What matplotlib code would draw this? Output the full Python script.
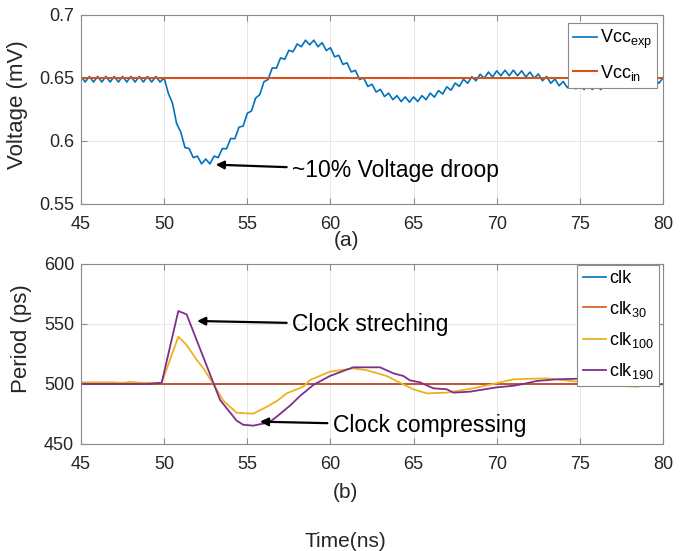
import numpy as np
import matplotlib
matplotlib.use("Agg")
import matplotlib.pyplot as plt

plt.rcParams['font.family'] = ['Liberation Sans', 'DejaVu Sans']
plt.rcParams['mathtext.fontset'] = 'custom'
plt.rcParams['mathtext.rm'] = 'Liberation Sans'
plt.rcParams['mathtext.it'] = 'Liberation Sans:italic'

# ---- (a) supply voltage, ripple tops (t = 45, 45.5, ... 80) and bottoms (t = 45.25, ... 79.75)
vcc_top = [0.6512] * 10 + [
    0.6500, 0.6300, 0.6070, 0.5940, 0.5880, 0.5857, 0.5880, 0.5940, 0.6020, 0.6110,
    0.6220, 0.6340, 0.6470, 0.6580, 0.6660, 0.6720, 0.6770, 0.6800, 0.6800, 0.6780,
    0.6740, 0.6680, 0.6620, 0.6560, 0.6500, 0.6450, 0.6410, 0.6380, 0.6360, 0.6350,
    0.6350, 0.6360, 0.6380, 0.6400, 0.6430, 0.6460, 0.6490, 0.6510, 0.6530, 0.6547,
    0.6557, 0.6562, 0.6562, 0.6557, 0.6547, 0.6532, 0.6512, 0.6492, 0.6472, 0.6462,
    0.6452, 0.6452, 0.6452, 0.6457, 0.6462, 0.6472, 0.6477, 0.6482, 0.6492, 0.6497,
    0.6502]
vcc_bot = [0.6468] * 10 + [
    0.6378, 0.6138, 0.5948, 0.5868, 0.5818, 0.5818, 0.5868, 0.5938, 0.6018, 0.6118,
    0.6238, 0.6368, 0.6488, 0.6578, 0.6648, 0.6708, 0.6748, 0.6763, 0.6748, 0.6718,
    0.6668, 0.6608, 0.6548, 0.6488, 0.6433, 0.6388, 0.6353, 0.6328, 0.6313, 0.6308,
    0.6313, 0.6328, 0.6348, 0.6373, 0.6403, 0.6433, 0.6458, 0.6478, 0.6498, 0.6508,
    0.6518, 0.6518, 0.6518, 0.6508, 0.6498, 0.6478, 0.6458, 0.6438, 0.6423, 0.6413,
    0.6408, 0.6408, 0.6408, 0.6418, 0.6423, 0.6428, 0.6438, 0.6443, 0.6448, 0.6458]
vcc_in = 0.65

# ---- (b) clock period
clk_t = [45, 80]
clk_v = [500, 500]
clk30_t = [45, 80]
clk30_v = [500, 500]
clk100_t = [45, 47, 47.5, 48, 48.5, 49.85, 50.85, 51.35, 51.96, 52.36, 52.96, 53.56,
            54.36, 55.36, 56.17, 56.8, 57.37, 58.37, 58.77, 59.97, 61.37, 62.18, 63.38,
            64.18, 64.98, 65.79, 66.99, 68.59, 69.79, 70.99, 73.0, 74.8, 76.4, 77.4,
            78.4, 79.2, 80]
clk100_v = [501.4, 501.4, 501, 501.8, 501, 501, 539.4, 532.5, 520, 513, 500, 486,
            476, 475.3, 481, 486, 492.2, 497.8, 503.3, 510.3, 513, 511.5, 506.7,
            501.1, 495.6, 492.2, 492.8, 496.4, 500, 503.9, 504.7, 502, 499.7, 498.5,
            497.8, 499, 500]
clk190_t = [45, 49, 49.85, 50.85, 51.35, 53.36, 54.36, 54.76, 55.36, 55.96, 56.37,
            56.77, 57.57, 58.17, 58.97, 59.97, 60.8, 61.37, 62.98, 63.78, 64.38, 64.78,
            65.38, 66.19, 66.99, 67.39, 68.39, 69.99, 70.99, 71.6, 72.4, 73.6, 74.9,
            75.7, 76.4, 77.5, 78.5, 79.5, 80]
clk190_v = [500, 500, 501, 560.8, 558, 486.7, 469.4, 466, 465.3, 467, 468.6,
            472.8, 482, 490, 499.2, 506.7, 511, 513.9, 513.9, 508.9, 506.7, 503,
            501.4, 496.4, 495.6, 492.8, 493.6, 497.2, 498.5, 500, 502.5, 503.9, 504.4,
            503, 500, 498.5, 498.3, 499, 500]

c_blue, c_orange, c_yellow, c_purple = '#0072BD', '#D95319', '#EDB120', '#7E2F8E'

# interleave ripple tops/bottoms
t_top = np.arange(len(vcc_top)) * 0.5 + 45
t_bot = np.arange(len(vcc_bot)) * 0.5 + 45.25
t_exp = np.concatenate([t_top, t_bot])
v_exp = np.concatenate([vcc_top, vcc_bot])
order = np.argsort(t_exp)
t_exp, v_exp = t_exp[order], v_exp[order]

fig = plt.figure(figsize=(6.89, 5.51), dpi=100)
ax1 = fig.add_axes([0.1176, 0.6298, 0.8447, 0.343])
ax2 = fig.add_axes([0.1176, 0.1942, 0.8447, 0.3267])


def style(ax):
    ax.grid(True, color='#e6e6e6', lw=0.7)
    ax.set_axisbelow(True)
    for s in ax.spines.values():
        s.set_color('#8a8a8a')
        s.set_linewidth(0.8)
    ax.tick_params(direction='in', top=True, right=True, length=4, width=0.8,
                   color='#8a8a8a', labelsize=13, labelcolor='#262626')
    ax.tick_params(axis='x', pad=8.5)
    ax.tick_params(axis='y', pad=5)
    ax.set_xlim(45, 80)
    ax.set_xticks(range(45, 81, 5))


def legend(ax, anchor):
    leg = ax.legend(loc='upper right', bbox_to_anchor=anchor, fontsize=13,
                    frameon=True, fancybox=False, framealpha=1, edgecolor='#8a8a8a',
                    handlelength=1.3, handletextpad=0.15, borderpad=0.3,
                    labelspacing=0.62, borderaxespad=0)
    leg.get_frame().set_linewidth(0.8)
    return leg


arrow = dict(arrowstyle='-|>', color='k', lw=1.6, mutation_scale=12, shrinkA=2, shrinkB=0)

ax1.plot(t_exp, v_exp, color=c_blue, lw=1.2, label=r'Vcc$_{\rm exp}$')
ax1.plot([45, 80], [vcc_in, vcc_in], color=c_orange, lw=1.5, label=r'Vcc$_{\rm in}$')
style(ax1)
ax1.set_ylim(0.55, 0.7)
ax1.set_yticks([0.55, 0.6, 0.65, 0.7])
ax1.set_yticklabels(['0.55', '0.6', '0.65', '0.7'])
ax1.set_ylabel('Voltage (mV)', fontsize=16, color='#262626')
ax1.yaxis.set_label_coords(-0.091, 0.524)
legend(ax1, (0.9897, 0.959))
ax1.annotate('~10% Voltage droop', xy=(53.1, 0.5812), xytext=(57.7, 0.5762),
             fontsize=16.5, va='center', ha='left', color='k', arrowprops=arrow)

ax2.plot(clk_t, clk_v, color=c_blue, lw=1.2, label='clk')
ax2.plot(clk30_t, clk30_v, color=c_orange, lw=1.2, label=r'clk$_{\rm 30}$')
ax2.plot(clk100_t, clk100_v, color=c_yellow, lw=1.3, label=r'clk$_{\rm 100}$')
ax2.plot(clk190_t, clk190_v, color=c_purple, lw=1.3, label=r'clk$_{\rm 190}$')
style(ax2)
ax2.set_ylim(450, 600)
ax2.set_yticks([450, 500, 550, 600])
ax2.set_ylabel('Period (ps)', fontsize=16, color='#262626')
ax2.yaxis.set_label_coords(-0.0847, 0.583)
legend(ax2, (0.9931, 0.994))
ax2.annotate('Clock streching', xy=(51.98, 552.5), xytext=(57.7, 549.5),
             fontsize=16.5, va='center', ha='left', color='k', arrowprops=arrow)
ax2.annotate('Clock compressing', xy=(55.76, 468.6), xytext=(60.15, 465.5),
             fontsize=16.5, va='center', ha='left', color='k', arrowprops=arrow)

fig.text(0.5036, 0.5644, '(a)', ha='center', va='center', fontsize=15, color='#262626')
fig.text(0.5007, 0.1053, '(b)', ha='center', va='center', fontsize=15, color='#262626')
fig.text(0.5007, 0.0181, 'Time(ns)', ha='center', va='center', fontsize=15, color='#262626')

fig.savefig('out.png', dpi=100)
